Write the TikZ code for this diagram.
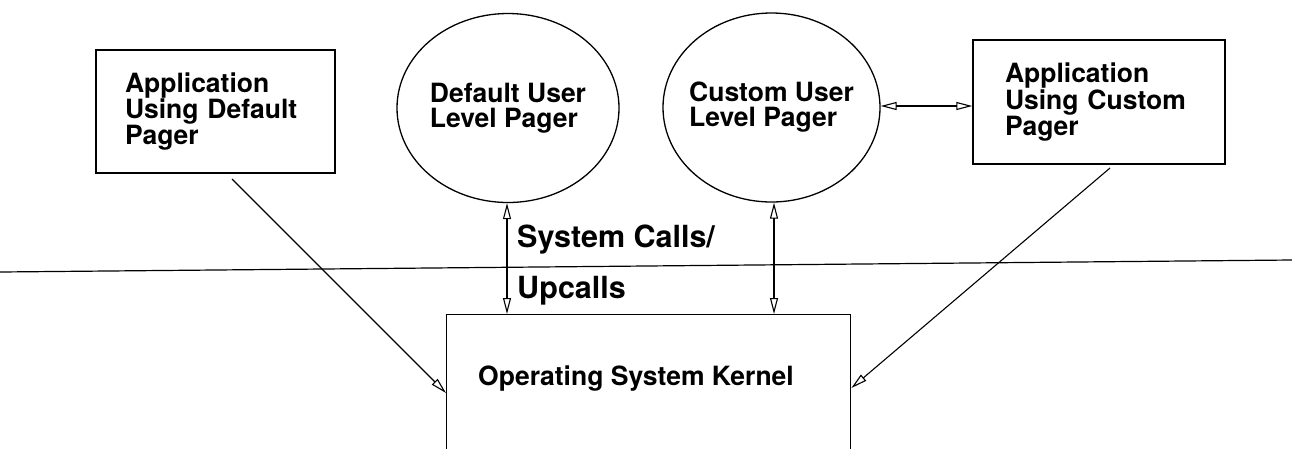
\documentclass[tikz,border=0pt]{standalone}
\usepackage{fontspec}
\setmainfont{TeX Gyre Heros}
\usetikzlibrary{arrows.meta,shapes.geometric}
\begin{document}
\begin{tikzpicture}[x=1pt,y=-1pt,
  every node/.style={font=\fontsize{26.5}{25}\selectfont\bfseries},
  lbl/.style={inner sep=0pt,align=left,font=\fontsize{26.5}{25}\selectfont\bfseries},
  bigl/.style={inner sep=0pt,font=\fontsize{30.5}{30}\selectfont\bfseries},
  appbox/.style={draw,line width=1.4pt,rectangle,inner sep=0pt,align=left},
  pager/.style={draw,line width=1.3pt,ellipse,inner sep=0pt},
  conn/.style={line width=1.1pt},
  tip/.style={Triangle[open,length=16pt,width=8pt,line width=1.1pt]}
]
\clip (0,0) rectangle (1292,448);
% boxes
\node[appbox,minimum width=239pt,minimum height=123pt,text width=181pt] (appd) at (215.5,111.5) {Application\\Using Default\\Pager};
\node[appbox,minimum width=252pt,minimum height=124pt,text width=188pt] (appc) at (1099,102) {Application\\Using Custom\\Pager};
\node[pager,minimum width=222pt,minimum height=189pt,label={[lbl]center:Default User\\Level Pager}] (dp) at (508,108) {};
\node[pager,minimum width=217pt,minimum height=189pt,label={[lbl]center:Custom User\\Level Pager}] (cp) at (771.5,107.5) {};
\node[appbox,minimum width=404pt,minimum height=180pt,anchor=north west] (kern) at (446,314) {};
\node[lbl,anchor=base west] (kt) at (478,385) {Operating System Kernel};
% divider
\coordinate (hl) at (0,272);
\coordinate (hr) at (1292,260);
\draw[line width=1.2pt] (hl) -- (hr);
\node[bigl,anchor=base west] (sc) at (517,247) {System Calls/};
\node[bigl,anchor=base west] (uc) at (517,298) {Upcalls};
% connectors
\coordinate (a1) at (232,179);
\coordinate (a2) at (1110,168);
\draw[conn,-{Triangle[open,length=16pt,width=8pt]}] (a1) -- (kern.west |- 0,393);
\draw[conn,-{Triangle[open,length=16pt,width=8pt]}] (a2) -- (kern.east |- 0,388);
\draw[conn,{Triangle[open,length=16pt,width=8pt]}-{Triangle[open,length=16pt,width=8pt]}] (dp.south -| 507,0) -- (kern.north -| 507,0);
\draw[conn,{Triangle[open,length=16pt,width=8pt]}-{Triangle[open,length=16pt,width=8pt]}] (cp.south -| 774,0) -- (kern.north -| 774,0);
\draw[conn,{Triangle[open,length=16pt,width=8pt]}-{Triangle[open,length=16pt,width=8pt]}] (cp.east |- 0,106) -- (appc.west |- 0,106);
\end{tikzpicture}
\end{document}
